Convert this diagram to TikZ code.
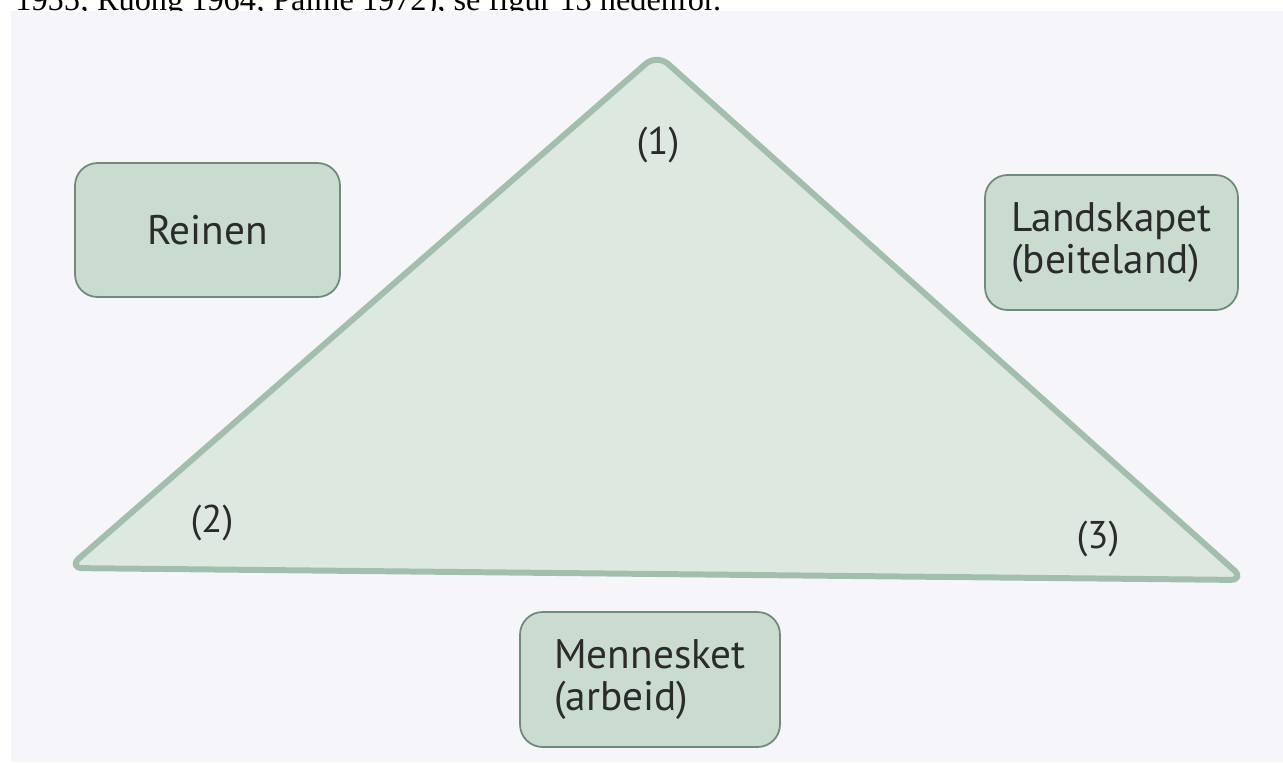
\documentclass[tikz,border=0pt]{standalone}
\usepackage{fontspec}
\setmainfont{Liberation Serif}
\setsansfont{PT Sans}
\usetikzlibrary{positioning}
\definecolor{scan}{HTML}{F6F5FA}
\definecolor{trifill}{HTML}{DDE9E0}
\definecolor{triline}{HTML}{A2BFAE}
\definecolor{boxfill}{HTML}{C9DCCF}
\definecolor{boxline}{HTML}{6E8A7A}
\definecolor{ink}{HTML}{2B2B2B}
\tikzset{corner/.style={font=\sffamily\fontsize{22}{26}\selectfont, text=ink}}
\tikzset{topic/.style={draw=boxline, line width=1pt, fill=boxfill, rounded corners=0.45cm, text=ink, font=\sffamily\fontsize{23.5}{23.5}\selectfont, align=left, inner sep=0pt}}
\tikzset{triangle/.style={draw=triline, line width=3.4pt, fill=trifill, rounded corners=0.3cm, line join=round}}

\begin{document}
\begin{tikzpicture}[x=0.02cm, y=-0.02cm]
    \useasboundingbox (0,0) rectangle (1283,762);
    \clip (0,0) rectangle (1283,762);
    % line of running text cut off by the top edge
    \node[anchor=base west, inner sep=0pt, font=\fontsize{18.4}{22}\selectfont] (caption) at (15,10) {1955; Ruong 1964; Palme 1972), se figur 13 nedenfor.};
    \fill[scan] (11,11) rectangle (1283,762);
    % the triangle
    \coordinate (apex) at (657,54);
    \coordinate (west) at (68,568);
    \coordinate (east) at (1245,580);
    \draw[triangle] (apex) -- (west) -- (east) -- cycle;
    \node[corner] (one) at (658,145) {(1)};
    \node[corner] (two) at (212,523) {(2)};
    \node[corner] (three) at (1098,539) {(3)};
    % the three boxes
    \node[topic, minimum width=5.3cm, minimum height=2.68cm] (reinen) at (207.5,230) {Reinen};
    \node[topic, minimum width=5.06cm, minimum height=2.7cm] (landskapet) at (1111.5,242.5) {Landskapet\\(beiteland)};
    \node[topic, minimum width=5.2cm, minimum height=2.7cm] (mennesket) at (650,679.5) {Mennesket\\(arbeid)};
\end{tikzpicture}
\end{document}
